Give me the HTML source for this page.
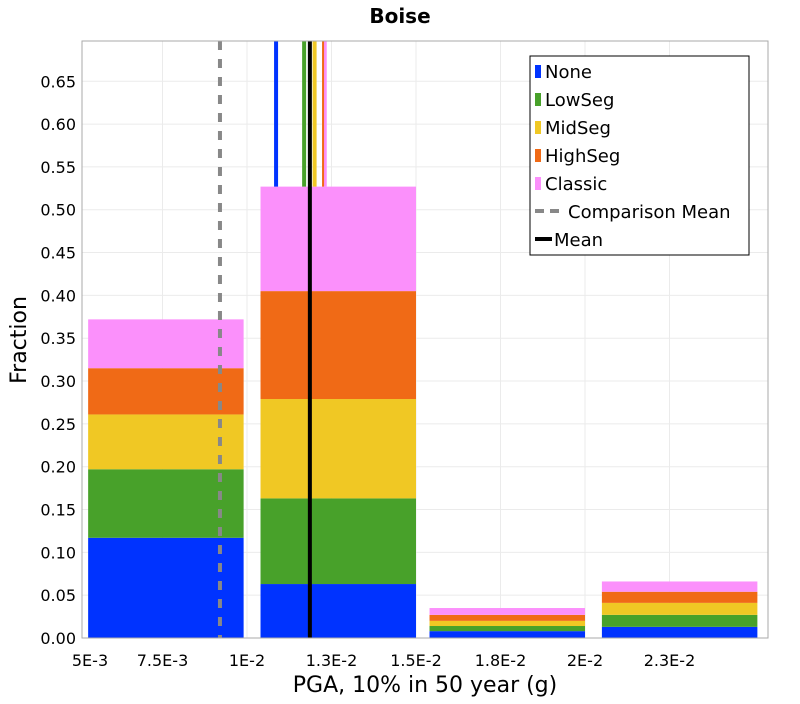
<!DOCTYPE html>
<html><head><meta charset="utf-8"><style>
body{margin:0;background:#fff;font-family:"DejaVu Sans","Liberation Sans",sans-serif}
</style></head><body>
<svg id="chart" width="800" height="700" xmlns="http://www.w3.org/2000/svg" font-family="DejaVu Sans, Liberation Sans, sans-serif"></svg>
<script>
const categories=[0.0076,0.0127,0.0177,0.0228];
const binWidth=0.0046;
const seriesNames=["None","LowSeg","MidSeg","HighSeg","Classic"];
const noneVals=[0.117,0.063,0.008,0.013];
const lowVals=[0.080,0.100,0.006,0.014];
const midVals=[0.064,0.116,0.006,0.014];
const highVals=[0.054,0.126,0.007,0.013];
const classicVals=[0.057,0.122,0.008,0.012];
const seriesMeans=[0.01086,0.01169,0.0120,0.01225,0.0123];
const comparisonMean=0.0092;
const overallMean=0.01186;
const yTicks=[0,0.05,0.1,0.15,0.2,0.25,0.3,0.35,0.4,0.45,0.5,0.55,0.6,0.65];
const xTickVals=[0.005,0.0075,0.01,0.0125,0.015,0.0175,0.02,0.0225];
const xTickLabels=["5E-3","7.5E-3","1E-2","1.3E-2","1.5E-2","1.8E-2","2E-2","2.3E-2"];
const colors=["#0033ff","#48a12a","#f0c824","#f06a16","#fb90fb"];
const L=82,R=768,T=41,B=638;
const xMin=0.005+4/33800,xMax=0.01+521/33800,yMin=0,yMax=0.697;
const X=v=>L+(v-xMin)/(xMax-xMin)*(R-L);
const Y=v=>B-(v-yMin)/(yMax-yMin)*(B-T);
const svg=document.getElementById('chart');
const NS="http://www.w3.org/2000/svg";
function mk(tag,attrs,parent){const e=document.createElementNS(NS,tag);for(const k in attrs)e.setAttribute(k,attrs[k]);(parent||svg).appendChild(e);return e;}
let e;
e=mk('rect',{x:L,y:T,width:R-L,height:B-T,fill:'#fff',stroke:'#aaa'});


yTicks.forEach(t=>{const g=mk('line',{x1:L,x2:R,y1:Y(t),y2:Y(t),stroke:'#ebebeb'});


const tx=mk('text',{x:L-6,y:Y(t)+6,'text-anchor':'end','font-size':16,fill:'#000'});tx.textContent=t.toFixed(2);

});
xTickVals.forEach((t,i)=>{const gx=X(t);if(gx>L&&gx<R){const g=mk('line',{x1:gx,x2:gx,y1:T,y2:B,stroke:'#ebebeb'});

}
const tx=mk('text',{x:Math.max(gx,90),y:666,'text-anchor':'middle','font-size':16});tx.textContent=xTickLabels[i];

});
const allSeries=[noneVals,lowVals,midVals,highVals,classicVals];
const tops=[];
categories.forEach((c,i)=>{let acc=0;allSeries.forEach((s,k)=>{const r=mk('rect',{x:X(c-binWidth/2),width:X(c+binWidth/2)-X(c-binWidth/2),y:Y(acc+s[i]),height:Y(acc)-Y(acc+s[i]),fill:colors[k]});


acc+=s[i];});tops.push(acc);});
const meanBin=categories.reduce((b,c,i)=>Math.abs(c-overallMean)<Math.abs(categories[b]-overallMean)?i:b,0);
const barTop=tops[meanBin];
const widths=[4,4,4,2,4];
[0,1,2,4,3].forEach(k=>{const l=mk('line',{x1:X(seriesMeans[k]),x2:X(seriesMeans[k]),y1:T,y2:Y(barTop),stroke:colors[k],'stroke-width':widths[k]});

});
e=mk('line',{x1:X(comparisonMean),x2:X(comparisonMean),y1:T,y2:B,stroke:'#888','stroke-width':4,'stroke-dasharray':'9,9'});


e=mk('line',{x1:X(overallMean),x2:X(overallMean),y1:T,y2:B,stroke:'#000','stroke-width':4});


e=mk('rect',{x:L,y:T,width:R-L,height:B-T,fill:'none',stroke:'#aaa'});


// legend
const lg=mk('g',{});


mk('rect',{x:530,y:56,width:219,height:199,fill:'#fff',stroke:'#000'},lg);
const labels=seriesNames.concat(["Comparison Mean","Mean"]);
labels.forEach((n,i)=>{const y=71+i*28;const g=mk('g',{},lg);


if(i<5){mk('rect',{x:535,y:y-6,width:6,height:13,fill:colors[i]},g);}
else if(i===5){mk('line',{x1:535,x2:565,y1:y,y2:y,stroke:'#888','stroke-width':4,'stroke-dasharray':'9,6'},g);}
else{mk('line',{x1:535,x2:552,y1:y,y2:y,stroke:'#000','stroke-width':4},g);}
const t=mk('text',{x:i<5?545:(i===5?568:554),y:y+7,'font-size':18},g);t.textContent=n;});
e=mk('text',{x:400,y:23,'text-anchor':'middle','font-size':20,'font-weight':'bold'});e.textContent="Boise";


e=mk('text',{x:425,y:692,'text-anchor':'middle','font-size':22});e.textContent="PGA, 10% in 50 year (g)";


e=mk('text',{x:0,y:0,'text-anchor':'middle','font-size':22,transform:'translate(26,340) rotate(-90)'});e.textContent="Fraction";


</script>
</body></html>
